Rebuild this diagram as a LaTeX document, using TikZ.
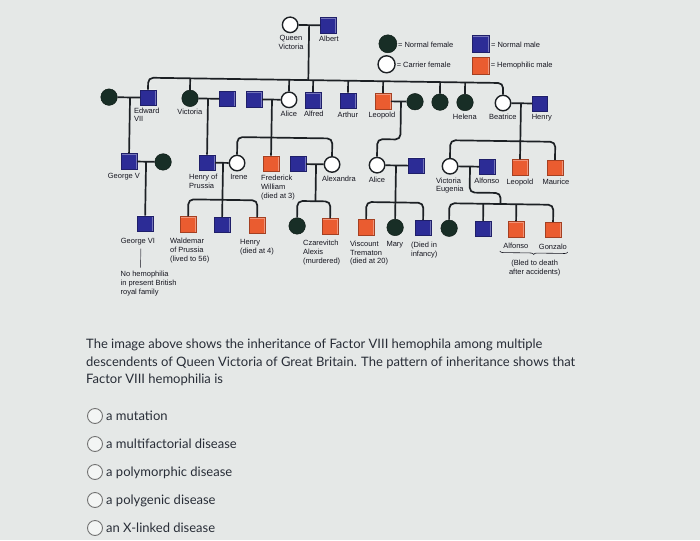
\documentclass[tikz,border=0pt]{standalone}
\usepackage{fontspec}
\setmainfont{Liberation Sans}
\newfontfamily\latofont{Lato}
\usetikzlibrary{calc,decorations.pathreplacing}
\definecolor{bg}{RGB}{229,232,231}
\definecolor{mblue}{RGB}{44,44,150}
\definecolor{horange}{RGB}{234,92,48}
\definecolor{fgreen}{RGB}{24,46,38}
\definecolor{lcol}{RGB}{28,32,36}
\definecolor{tcol}{RGB}{22,22,32}
\definecolor{qcol}{RGB}{40,45,55}
\begin{document}
\begin{tikzpicture}[x=1pt,y=-1pt,
  bevel/.style={path picture={\draw[white,opacity=0.35,line width=2.4pt]
     (path picture bounding box.north west) -- (path picture bounding box.north east)
     -- (path picture bounding box.south east);}},
  msq/.style={rectangle,minimum size=15.5pt,inner sep=0pt,fill=mblue,draw=mblue!70!black,line width=0.5pt,bevel},
  hsq/.style={msq,fill=horange,draw=horange!70!black},
  nf/.style={circle,minimum size=16.5pt,inner sep=0pt,fill=fgreen,draw=fgreen!60!black,line width=0.5pt},
  cf/.style={circle,minimum size=15.5pt,inner sep=0pt,fill=white,draw=lcol,line width=1.4pt},
  ln/.style={draw=lcol,line width=1.7pt},
  rc/.style={rounded corners=5pt},
  lbl/.style={font=\fontsize{7.5}{8.8}\selectfont,text=tcol,inner sep=0pt,align=center,anchor=north},
  lbll/.style={lbl,align=left,anchor=north west},
  qtxt/.style={font=\latofont\fontsize{13}{15}\selectfont,text=qcol,inner sep=0pt,anchor=base west},
  opt/.style={circle,minimum size=15pt,inner sep=0pt,draw=black!55,line width=0.9pt,fill=white!55!bg},
]
\useasboundingbox (0,0) rectangle (700,540);
\fill[bg] (0,0) rectangle (700,540);

\begin{scope}[rotate around={-0.86:(100,100)}]
\coordinate (s2) at (0,77);
\coordinate (s3) at (0,135);
\coordinate (s4) at (0,198);
\coordinate (j4) at (0,187);
% generation 1
\node[cf] (qv) at (289,22) {};
\node[msq] (albert) at (327,22) {};
\coordinate (qvd) at (308,22);
\node[lbl] (lqv) at (290,32) {Queen\\Victoria};
\node[lbl] (lalb) at (328,32) {Albert};
% legend
\node[nf,minimum size=18pt] (lgnf) at (387,39.5) {};
\node[cf,minimum size=17pt] (lgcf) at (386,60) {};
\node[msq,minimum size=17pt] (lgms) at (480,38.5) {};
\node[hsq,minimum size=17pt] (lghs) at (480,60) {};
\node[lbl,anchor=west] (tnf) at (397,40) {= Normal female};
\node[lbl,anchor=west] (tcf) at (396,60.5) {= Carrier female};
\node[lbl,anchor=west] (tms) at (490,39) {= Normal male};
\node[lbl,anchor=west] (ths) at (490,60) {= Hemophilic male};
% generation 2
\node[nf] (edww) at (109,97) {};
\node[msq] (edward) at (148,97) {};
\node[nf] (vicky) at (190,97) {};
\node[msq] (fred3) at (227,97) {};
\node[msq] (louis) at (254,97) {};
\node[cf] (alice) at (289,97) {};
\node[msq] (alfred) at (313,97) {};
\node[msq] (arthur) at (348,97) {};
\node[hsq] (leopold) at (383,97) {};
\node[nf] (helene) at (415,97) {};
\node[nf] (louise) at (440,97) {};
\node[nf] (helena) at (465,97) {};
\node[cf] (beatrice) at (503,97) {};
\node[msq] (henryb) at (540,97) {};
\coordinate (edd) at (130,97);
\coordinate (vid) at (208,97);
\coordinate (ald) at (272,97);
\coordinate (led) at (401,97);
\coordinate (bed) at (521,97);
\node[lbll] (ledw) at (134,107) {Edward\\VII};
\node[lbl] (lvic) at (190,108) {Victoria};
\node[lbl] (lali) at (289,108) {Alice};
\node[lbl] (lalf) at (314,108) {Alfred};
\node[lbl] (lart) at (348,108) {Arthur};
\node[lbl] (lleo) at (382,108) {Leopold};
\node[lbl] (lhel) at (465,108) {Helena};
\node[lbl] (lbea) at (503,108) {Beatrice};
\node[lbl] (lhen) at (542,108) {Henry};
% generation 3
\node[msq] (george5) at (130,161) {};
\node[nf] (mary5) at (164,161) {};
\node[msq] (henryp) at (208,161) {};
\node[cf] (irene) at (238,161) {};
\node[hsq] (fredw) at (272,161) {};
\node[msq] (nicholas) at (299,161) {};
\node[cf] (alexandra) at (333,161) {};
\node[cf] (alice2) at (378,161) {};
\node[msq] (athlone) at (417,161) {};
\node[cf] (ve) at (451,161) {};
\node[msq] (alfonso) at (488,161) {};
\node[hsq] (leo2) at (521,161) {};
\node[hsq] (maurice) at (556,161) {};
\coordinate (g5d) at (147,161);
\coordinate (hid) at (224,161);
\coordinate (nad) at (317,161);
\coordinate (a2d) at (397,161);
\coordinate (ved) at (471,161);
\coordinate (jx) at (502,0);
\node[lbl] (lg5) at (125,172.5) {George V};
\node[lbll] (lhp) at (190,172.5) {Henry of\\Prussia};
\node[lbl] (lire) at (240,172.5) {Irene};
\node[lbll] (lfw) at (262,172.5) {Frederick\\William\\(died at 3)};
\node[lbl] (lalx) at (340,172.5) {Alexandra};
\node[lbl] (lal2) at (378,172.5) {Alice};
\node[lbll] (lve) at (437,172.5) {Victoria\\Eugenia};
\node[lbl] (lafo) at (488,172.5) {Alfonso};
\node[lbl] (ll2) at (521,172.5) {Leopold};
\node[lbl] (lmau) at (557,172.5) {Maurice};
% generation 4
\node[msq] (george6) at (147,223) {};
\node[hsq] (waldemar) at (190,223) {};
\node[msq] (sigis) at (224,223) {};
\node[hsq] (henry4) at (259,223) {};
\node[nf] (tat) at (299,223) {};
\node[hsq] (alexis) at (332,223) {};
\node[hsq] (trematon) at (368,223) {};
\node[nf] (mary) at (397,223) {};
\node[msq] (infant) at (425,223) {};
\node[nf] (beatriz) at (451,223) {};
\node[msq] (jaime) at (485,223) {};
\node[hsq] (alfonso2) at (518,223) {};
\node[hsq] (gonzalo) at (555,223) {};
\node[lbl] (lg6) at (140,237) {George VI};
\node[lbll] (lwal) at (172,237) {Waldemar\\of Prussia\\(lived to 56)};
\node[lbll] (lh4) at (242,237) {Henry\\(died at 4)};
\node[lbll] (lalexis) at (305,237) {Czarevitch\\Alexis\\(murdered)};
\node[lbll] (ltre) at (352,237) {Viscount\\Trematon\\(died at 20)};
\node[lbl] (lmary) at (397,237) {Mary};
\node[lbll] (linf) at (413,237) {(Died in\\infancy)};
\node[lbl] (lafo2) at (518,237) {Alfonso};
\node[lbl] (lgon) at (555,237) {Gonzalo};
\coordinate (br1) at (502,245);
\coordinate (br2) at (570,245);
\draw[decorate,decoration={brace,amplitude=3pt,mirror},draw=tcol,line width=0.6pt] (br1) -- (br2);
\node[lbl] (lbled) at (537,253.5) {(Bled to death\\after accidents)};
\coordinate (nh1) at (143,248);
\coordinate (nh2) at (143,267);
\draw[draw=tcol!70,line width=0.7pt] (nh1) -- (nh2);
\node[lbll,font=\fontsize{7.5}{9}\selectfont] (lnoh) at (123,271) {No hemophilia\\in present British\\royal family};

% connectors
\draw[ln] (qv) -- (albert);
\draw[ln] (qvd) -- (qvd |- s2);
\draw[ln,rc] (edward.north) -- (edward.north |- s2) -- (beatrice.north |- s2) -- (beatrice.north);
\foreach \n in {vicky,alice,alfred,arthur,leopold,louise,helena}
  \draw[ln] (\n.north) -- (\n.north |- s2);
\draw[ln] (edww) -- (edward);
\draw[ln] (edd) -- (george5.north);
\draw[ln] (vicky) -- (fred3);
\draw[ln] (vid) -- (henryp.north);
\draw[ln] (louis) -- (alice);
\draw[ln] (ald) -- (fredw.north);
\draw[ln,rc] (irene.north) -- (irene.north |- s3) -- (alexandra.north |- s3) -- (alexandra.north);
\draw[ln] (leopold) -- (helene);
\draw[ln,rc] (led) -- (led |- s3) -- (alice2.north |- s3) -- (alice2.north);
\draw[ln] (beatrice) -- (henryb);
\draw[ln] (bed) -- (leo2.north);
\draw[ln,rc] (ve.north) -- (ve.north |- s3) -- (maurice.north |- s3) -- (maurice.north);
\draw[ln] (george5) -- (mary5);
\draw[ln] (g5d) -- (george6.north);
\draw[ln] (henryp) -- (irene);
\draw[ln] (hid) -- (sigis.north);
\draw[ln,rc] (waldemar.north) -- (waldemar.north |- s4) -- (henry4.north |- s4) -- (henry4.north);
\draw[ln] (nicholas) -- (alexandra);
\draw[ln] (nad) -- (nad |- s4);
\draw[ln,rc] (tat.north) -- (tat.north |- s4) -- (alexis.north |- s4) -- (alexis.north);
\draw[ln] (alice2) -- (athlone);
\draw[ln] (a2d) -- (mary.north);
\draw[ln,rc] (trematon.north) -- (trematon.north |- s4) -- (infant.north |- s4) -- (infant.north);
\draw[ln] (ve) -- (alfonso);
\draw[ln,rc] (ved) -- (ved |- j4) -- (jx |- j4) -- (jx |- s4);
\draw[ln,rc] (beatriz.north) -- (beatriz.north |- s4) -- (gonzalo.north |- s4) -- (gonzalo.north);
\foreach \n in {jaime,alfonso2}
  \draw[ln] (\n.north) -- (\n.north |- s4);
\end{scope}

% question
\node[qtxt] (q1) at (86,348) {The image above shows the inheritance of Factor VIII hemophila among multiple};
\node[qtxt] (q2) at (86,366) {descendents of Queen Victoria of Great Britain. The pattern of inheritance shows that};
\node[qtxt] (q3) at (86,383.5) {Factor VIII hemophilia is};
\node[opt] (o1) at (95,416) {};
\node[opt] (o2) at (95,444) {};
\node[opt] (o3) at (95,472) {};
\node[opt] (o4) at (95,500) {};
\node[opt] (o5) at (95,528) {};
\node[qtxt] (t1) at (106,420.5) {a mutation};
\node[qtxt] (t2) at (106,448.5) {a multifactorial disease};
\node[qtxt] (t3) at (106,476.5) {a polymorphic disease};
\node[qtxt] (t4) at (106,504.5) {a polygenic disease};
\node[qtxt] (t5) at (106,532.5) {an X-linked disease};
\end{tikzpicture}
\end{document}
